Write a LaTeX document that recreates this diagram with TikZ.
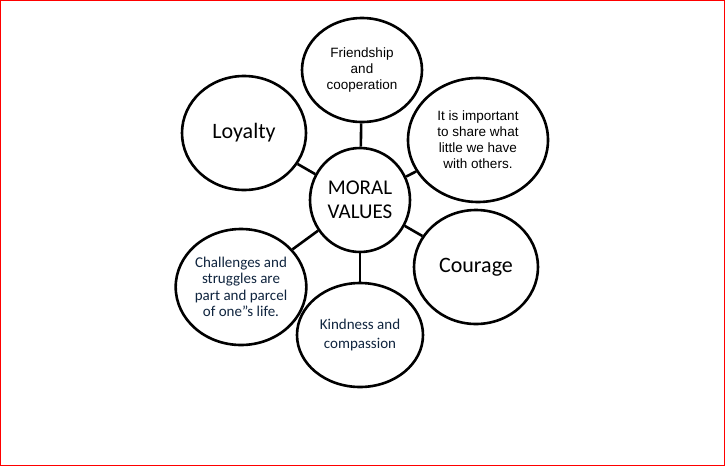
\documentclass[tikz,border=0pt]{standalone}
\usepackage{fontspec}
\setmainfont{Carlito}
\newfontfamily\arialf{Liberation Sans}
\usetikzlibrary{shapes.geometric}
\definecolor{navy}{HTML}{0F243E}
\begin{document}
\begin{tikzpicture}[x=1pt,y=-1pt,
  bub/.style={ellipse,draw=black,line width=2.6pt,inner sep=0pt,align=center},
  link/.style={line width=2.6pt}]
\useasboundingbox (0,0) rectangle (725,466);
\draw[red,line width=0.8pt] (0.5,0.5) rectangle (724.5,465.5);
\node[bub,minimum width=100,minimum height=104,font=\fontsize{21}{24}\selectfont] (c) at (360,200) {MORAL\\VALUES};
\node[bub,minimum width=120,minimum height=104,font=\fontsize{13.5}{16}\selectfont\arialf] (t) at (362,70) {Friendship\\and\\cooperation};
\node[bub,minimum width=140,minimum height=124,font=\fontsize{13.5}{16}\selectfont\arialf] (ur) at (478,140) {It is important\\to share what\\little we have\\with others.};
\node[bub,minimum width=124,minimum height=114,font=\fontsize{22}{24}\selectfont] (l) at (244,133) {Loyalty};
\node[bub,minimum width=124,minimum height=114,font=\fontsize{22}{24}\selectfont] (r) at (476,267) {Courage};
\node[bub,minimum width=126,minimum height=116,text=navy,font=\fontsize{15}{16.5}\selectfont] (ll) at (241,287) {Challenges and\\struggles are\\part and parcel\\of one''s life.};
\node[bub,minimum width=126,minimum height=104,text=navy,font=\fontsize{15}{19}\selectfont] (b) at (360,335) {Kindness and\\compassion};
\foreach \n in {t,ur,l,r,ll,b} \draw[link] (c) -- (\n);
\end{tikzpicture}
\end{document}
